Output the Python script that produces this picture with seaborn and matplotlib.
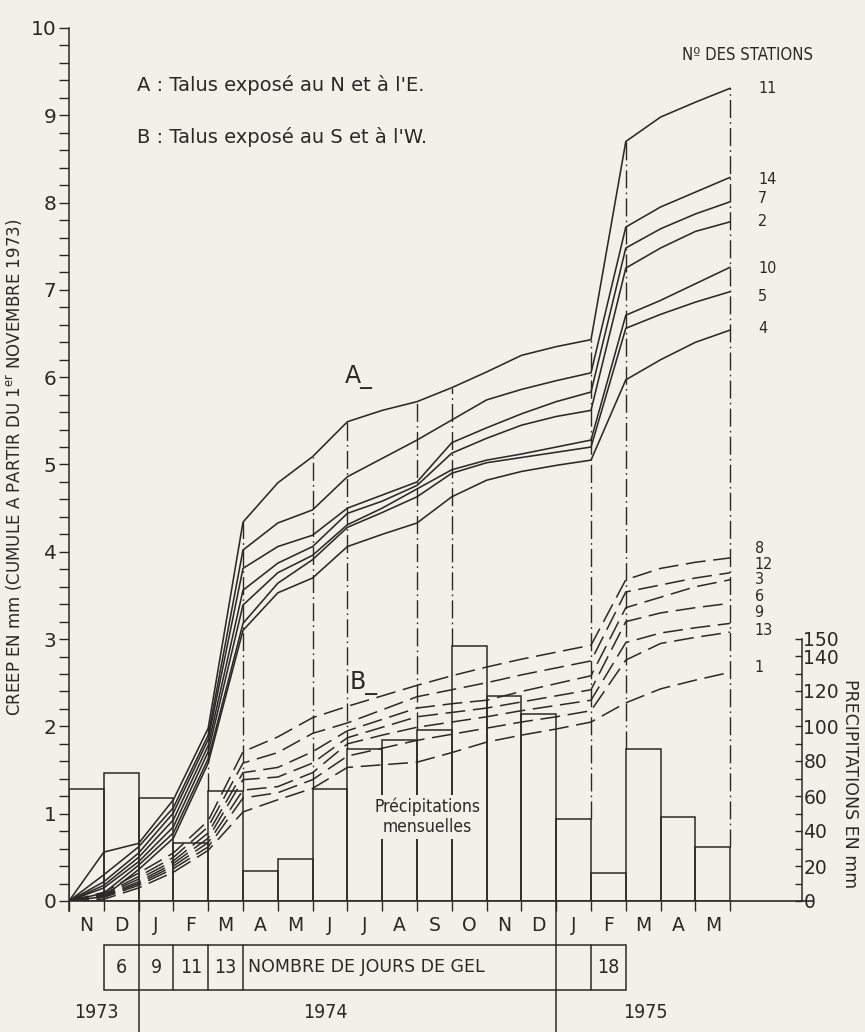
import numpy as np
import pandas as pd
import matplotlib
matplotlib.use("Agg")
import matplotlib.pyplot as plt
from matplotlib import font_manager as fm
from matplotlib.patches import Rectangle
import seaborn as sns

# ---------------- data ----------------
months = ['N', 'D', 'J', 'F', 'M', 'A', 'M', 'J', 'J', 'A', 'S', 'O', 'N', 'D', 'J', 'F', 'M', 'A', 'M']
precip_mm = [64, 73, 59, 33, 63, 17, 24, 64, 87, 92, 98, 146, 117, 107, 47, 16, 87, 48, 31]
# measurement dates: month boundaries from 1 Nov 1973 (0) to 1 Jun 1975 (19)
dates = list(range(20))

stations_A = ['11', '14', '7', '2', '10', '5', '4']
creep_A_11 = [0, 0.56, 0.66, 1.16, 1.98, 4.34, 4.79, 5.09, 5.49, 5.62, 5.72, 5.88, 6.06, 6.25, 6.35, 6.43, 8.70, 8.98, 9.15, 9.31]
creep_A_14 = [0, 0.30, 0.62, 1.07, 1.90, 4.02, 4.33, 4.48, 4.86, 5.07, 5.28, 5.51, 5.74, 5.86, 5.96, 6.05, 7.72, 7.95, 8.12, 8.29]
creep_A_7 = [0, 0.22, 0.55, 1.01, 1.85, 3.81, 4.06, 4.19, 4.50, 4.65, 4.80, 5.25, 5.42, 5.58, 5.72, 5.83, 7.48, 7.70, 7.87, 8.01]
creep_A_2 = [0, 0.18, 0.50, 0.93, 1.78, 3.56, 3.87, 4.06, 4.44, 4.58, 4.76, 5.13, 5.30, 5.45, 5.55, 5.62, 7.25, 7.48, 7.67, 7.78]
creep_A_10 = [0, 0.15, 0.45, 0.85, 1.71, 3.39, 3.76, 3.96, 4.31, 4.50, 4.72, 4.94, 5.05, 5.12, 5.20, 5.28, 6.71, 6.88, 7.07, 7.26]
creep_A_5 = [0, 0.09, 0.41, 0.78, 1.63, 3.18, 3.64, 3.91, 4.28, 4.45, 4.63, 4.90, 5.02, 5.08, 5.14, 5.20, 6.56, 6.72, 6.86, 6.98]
creep_A_4 = [0, 0.05, 0.36, 0.72, 1.58, 3.10, 3.53, 3.70, 4.06, 4.20, 4.33, 4.63, 4.82, 4.92, 4.99, 5.05, 5.97, 6.20, 6.40, 6.54]

stations_B = ['8', '12', '3', '6', '9', '13', '1']
creep_B_8 = [0, 0.10, 0.32, 0.55, 0.92, 1.71, 1.88, 2.10, 2.23, 2.35, 2.47, 2.58, 2.68, 2.77, 2.85, 2.93, 3.68, 3.81, 3.88, 3.93]
creep_B_12 = [0, 0.08, 0.28, 0.50, 0.85, 1.58, 1.70, 1.92, 2.04, 2.19, 2.34, 2.42, 2.50, 2.59, 2.67, 2.75, 3.54, 3.62, 3.70, 3.76]
creep_B_3 = [0, 0.07, 0.25, 0.46, 0.78, 1.47, 1.53, 1.71, 1.95, 2.08, 2.21, 2.26, 2.30, 2.40, 2.49, 2.58, 3.36, 3.48, 3.60, 3.68]
creep_B_6 = [0, 0.06, 0.22, 0.43, 0.72, 1.39, 1.42, 1.58, 1.87, 1.99, 2.11, 2.16, 2.21, 2.28, 2.35, 2.42, 3.20, 3.30, 3.36, 3.41]
creep_B_9 = [0, 0.05, 0.20, 0.40, 0.67, 1.27, 1.31, 1.47, 1.80, 1.90, 1.99, 2.05, 2.11, 2.18, 2.24, 2.30, 2.96, 3.07, 3.13, 3.18]
creep_B_13 = [0, 0.04, 0.18, 0.37, 0.62, 1.18, 1.24, 1.39, 1.66, 1.75, 1.84, 1.91, 1.98, 2.05, 2.11, 2.18, 2.76, 2.95, 3.02, 3.08]
creep_B_1 = [0, 0.02, 0.15, 0.33, 0.58, 1.02, 1.16, 1.29, 1.53, 1.56, 1.59, 1.70, 1.82, 1.90, 1.97, 2.05, 2.27, 2.43, 2.53, 2.62]

measure_dates = [4, 5, 7, 8, 10, 11, 15, 16, 19]
frost_start = [1, 2, 3, 4, 15]
frost_days = ['6', '9', '11', '13', '18']
years = ['1973', '1974', '1975']
year_centers = [0.78, 7.36, 16.55]

curves_A = [creep_A_11, creep_A_14, creep_A_7, creep_A_2, creep_A_10, creep_A_5, creep_A_4]
curves_B = [creep_B_8, creep_B_12, creep_B_3, creep_B_6, creep_B_9, creep_B_13, creep_B_1]

dfA = pd.DataFrame([(s, d, v) for s, c in zip(stations_A, curves_A) for d, v in zip(dates, c)],
                   columns=['station', 'date', 'creep'])
dfB = pd.DataFrame([(s, d, v) for s, c in zip(stations_B, curves_B) for d, v in zip(dates, c)],
                   columns=['station', 'date', 'creep'])
centers = [i + 0.5 for i in range(len(months))]
dfP = pd.DataFrame({'center': centers, 'precip': precip_mm})

# ---------------- style ----------------
INK = '#2c2826'
BG = '#f1f1ea'
sns.set_style('white')
names = {f.name for f in fm.fontManager.ttflist}
NARROW = 'Liberation Sans Narrow' if 'Liberation Sans Narrow' in names else 'DejaVu Sans'
plt.rcParams['font.family'] = ['DejaVu Sans']
plt.rcParams['text.color'] = INK
plt.rcParams['axes.edgecolor'] = INK
plt.rcParams['xtick.color'] = INK
plt.rcParams['ytick.color'] = INK

W, H = 865, 1032
fig = plt.figure(figsize=(W / 100, H / 100), dpi=100, facecolor=BG)
PX_MONTH = 34.8
ax = fig.add_axes([69 / W, 131 / H, 733 / W, 873 / H])
ax.set_facecolor(BG)
XMAX = 733 / PX_MONTH
PREC_MAX = 873 / 1.75

ax2 = ax.twinx()

# bars (monthly precipitation) on right axis
sns.barplot(data=dfP, x='center', y='precip', native_scale=True, width=1.0,
            fill=False, color=INK, linewidth=1.1, errorbar=None, ax=ax2)

# creep curves
sns.lineplot(data=dfA, x='date', y='creep', units='station', estimator=None,
             color=INK, linewidth=1.15, ax=ax, legend=False)
sns.lineplot(data=dfB, x='date', y='creep', units='station', estimator=None,
             color=INK, linewidth=1.1, ax=ax, legend=False, linestyle=(0, (13, 5)))

ax.set_xlim(0, XMAX)
ax.set_ylim(0, 10)
ax2.set_xlim(0, XMAX)
ax2.set_ylim(0, PREC_MAX)
ax.set_xlabel('')
ax.set_ylabel('')
ax2.set_xlabel('')
ax2.set_ylabel('')

# dash-dot verticals at measurement dates
ratio = 10 / PREC_MAX
for d in measure_dates:
    adj = [precip_mm[k] for k in (d - 1, d) if 0 <= k < len(precip_mm)]
    ax.plot([d, d], [max(adj) * ratio, creep_A_11[d]], color=INK, lw=1.0,
            ls=(0, (13, 3, 1.2, 3)))

# spines
for s in ['top', 'right', 'bottom']:
    ax.spines[s].set_visible(False)
for s in ['top', 'left', 'bottom']:
    ax2.spines[s].set_visible(False)
ax.spines['left'].set_bounds(-0.11, 10)
ax.spines['left'].set_linewidth(1.1)
ax2.spines['right'].set_bounds(0, 150)
ax2.spines['right'].set_linewidth(1.1)

# x-axis line extended past right axis
ax.plot([0, 21.38], [0, 0], color=INK, lw=1.2, clip_on=False)

# left ticks
ax.set_yticks(range(11))
ax.set_yticks(np.arange(0, 10.01, 0.2), minor=True)
ax.tick_params(axis='y', which='both', direction='out', length=7, width=1.0, pad=2,
               labelsize=14.5, left=True)

# bottom ticks: month boundaries
ax.set_xticks(range(20))
ax.set_xticklabels([])
ax.tick_params(axis='x', which='major', direction='out', length=7, width=1.0, bottom=True)
ax2.tick_params(axis='x', which='both', bottom=False, labelbottom=False)

# right axis ticks
ax2.set_yticks([0, 20, 40, 60, 80, 100, 120, 140, 150])
ax2.set_yticklabels(['0', '20', '40', '60', '80', '100', '120', '140', '150'])
ax2.set_yticks(np.arange(10, 140, 20), minor=True)
ax2.tick_params(axis='y', which='both', direction='in', length=5, width=1.0, pad=1,
                labelsize=13.5, right=True)

# month labels
for c, m in zip(centers, months):
    ax.text(c, -0.275, m, ha='center', va='center', fontsize=13.5, clip_on=False)

# year separators
for d in (2, 14):
    ax.plot([d, d], [0, -1.52], color=INK, lw=1.1, clip_on=False)

# frost-day box
ax.add_patch(Rectangle((1, -1.02), 15, 0.516, fill=False, ec=INK, lw=1.1, clip_on=False))
for d in (3, 4, 5, 15):
    ax.plot([d, d], [-1.02, -0.504], color=INK, lw=1.1, clip_on=False)
for s, n in zip(frost_start, frost_days):
    ax.text(s + 0.5, -0.76, n, ha='center', va='center', fontsize=14, clip_on=False,
            fontstretch='condensed')
ax.text(5.15, -0.76, 'NOMBRE DE JOURS DE GEL', ha='left', va='center', fontsize=12.5,
        clip_on=False)

for y, xc in zip(years, year_centers):
    ax.text(xc, -1.28, y, ha='center', va='center', fontsize=14, clip_on=False,
            fontstretch='condensed')

# station labels
label_y_A = [9.31, 8.27, 8.05, 7.78, 7.25, 6.93, 6.56]
for s, y in zip(stations_A, label_y_A):
    ax.text(19.8, y, s, ha='left', va='center', fontsize=11.5, clip_on=False,
            fontstretch='condensed')
label_y_B = [4.04, 3.85, 3.68, 3.49, 3.30, 3.10, 2.67]
for s, y in zip(stations_B, label_y_B):
    ax.text(19.7, y, s, ha='left', va='center', fontsize=11.5, clip_on=False,
            fontstretch='condensed')
ax.text(19.5, 9.69, 'Nº DES STATIONS', ha='center', va='center', fontsize=12,
        clip_on=False, fontstretch='condensed')

# annotations
ax.text(1.95, 9.35, "A : Talus exposé au N et à l'E.", ha='left', va='center',
        fontsize=14, family=NARROW)
ax.text(1.95, 8.75, "B : Talus exposé au S et à l'W.", ha='left', va='center',
        fontsize=14, family=NARROW)
ax.text(7.93, 6.0, 'A_', ha='left', va='center', fontsize=17)
ax.text(8.07, 2.50, 'B_', ha='left', va='center', fontsize=17)
ax2.text(10.29, 0.96 / ratio, 'Précipitations\nmensuelles', ha='center', va='center',
         fontsize=12.5, linespacing=1.15, zorder=10, fontstretch='condensed',
         bbox=dict(boxstyle='square,pad=0.15', fc=BG, ec='none'))

# axis titles
ax.text(-1.55, 4.97, r'CREEP EN mm (CUMULE A PARTIR DU 1$^{\mathrm{er}}$ NOVEMBRE 1973)',
        rotation=90, ha='center', va='center', fontsize=12, clip_on=False)
ax.text(22.45, 1.35, 'PRECIPITATIONS EN mm', rotation=-90, ha='center', va='center',
        fontsize=12.5, clip_on=False)

fig.savefig('out.png', dpi=100, facecolor=BG)
